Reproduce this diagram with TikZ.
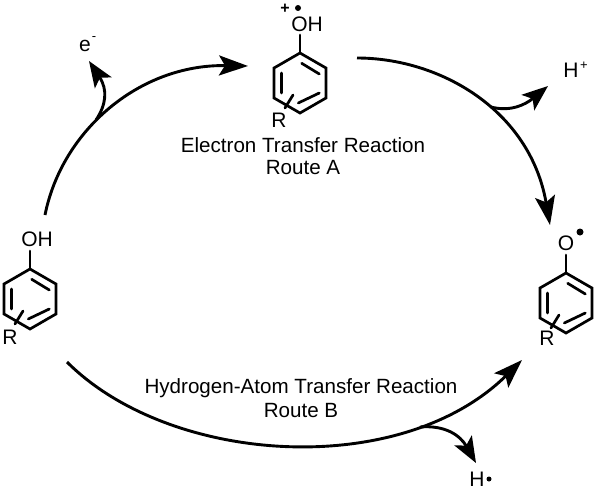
\documentclass[tikz,border=0pt]{standalone}
\usepackage{fontspec}
\setmainfont{Liberation Sans}
\usetikzlibrary{arrows.meta}
\tikzset{
  rbond/.style={black,line width=2.7pt,line cap=round,line join=miter},
  rarc/.style={black,line width=2.9pt,-{Stealth[length=29pt,width=20pt,inset=6pt]}},
  rbranch/.style={rarc,-{Stealth[length=26pt,width=20pt,inset=6pt]}},
  rlab/.style={font=\fontsize{21}{23}\selectfont,inner sep=0pt},
  rtxt/.style={font=\fontsize{20.6}{23}\selectfont,inner sep=0pt},
  rsup/.style={font=\fontsize{13}{14}\selectfont,inner sep=0pt},
  rdot/.style={circle,fill=black,inner sep=0pt,minimum size=6pt},
  pics/phenol/.style={code={
    \foreach \a/\n in {-90/a,-150/b,150/c,90/d,30/e,-30/f}
      {\coordinate (-\n) at (\a:30);}
    \draw[rbond] (-a)--(-b)--(-c)--(-d)--(-e)--(-f)--cycle;
    \draw[rbond] (-a)--++(0,-18);
    \draw[rbond] (1.7,-19.7)--(19.3,-9);
    \draw[rbond] (-18.3,-10)--(-18.3,10);
    \draw[rbond] (-1.7,20)--(19.3,10);
    \draw[rbond] (-7,12)--(-15,25);
  }},
}
\begin{document}
\begin{tikzpicture}[x=1pt,y=-1pt]
  \useasboundingbox (0,0) rectangle (597,490);
  % the three rings
  \pic (ringa) at (300,83) {phenol};
  \pic (ringb) at (30,299) {phenol};
  \pic (ringc) at (566,303) {phenol};
  \node[rlab] (oha) at (307,24) {OH};
  \node[rlab] (ra) at (279,120) {R};
  \node[rlab,font=\fontsize{16}{17}\bfseries] (plus) at (285,9) {+};
  \node[rdot] (rada) at (298,8) {};
  \node[rlab] (ohb) at (37,239) {OH};
  \node[rlab] (rb) at (10,337) {R};
  \node[rlab] (oc) at (566,243) {O};
  \node[rdot,minimum size=7pt] (radc) at (580,232) {};
  \node[rlab] (rc) at (547,338) {R};
  % leaving species
  \node[rlab] (em) at (85,46) {e};
  \node[rsup] (emc) at (94,39) {-};
  \node[rlab] (hp) at (571,70) {H};
  \node[rsup] (hpc) at (584,66) {+};
  \node[rlab] (hd) at (477,479) {H};
  \node[rdot,minimum size=5pt] (hddot) at (489,479) {};
  % route labels
  \node[rtxt] (eta) at (303,145) {Electron Transfer Reaction};
  \node[rtxt] (rta) at (303,168) {Route A};
  \node[rtxt] (hat) at (301,388) {Hydrogen-Atom Transfer Reaction};
  \node[rtxt] (rtb) at (301,411) {Route B};
  % arcs
  \coordinate (p1) at (45,215);
  \coordinate (p2) at (248,66);
  \coordinate (p3) at (357,58);
  \coordinate (p4) at (550,225);
  \coordinate (p5) at (67,362);
  \coordinate (p6) at (522,360);
  \draw[rarc] (p1) .. controls (62,130) and (140,64) .. (p2);
  \draw[rarc] (p3) .. controls (440,58) and (530,110) .. (p4);
  \draw[rarc] (p5) .. controls (170,465) and (400,480) .. (p6);
  % branches
  \coordinate (b1) at (96,120);
  \coordinate (b2) at (89,61);
  \coordinate (b3) at (491,107);
  \coordinate (b4) at (548,86);
  \coordinate (b5) at (420,427);
  \coordinate (b6) at (476,463);
  \draw[rbranch] (b1) .. controls (106,105) and (108,90) .. (b2);
  \draw[rbranch] (b3) .. controls (510,112) and (525,105) .. (b4);
  \draw[rbranch] (b5) .. controls (445,425) and (460,435) .. (b6);
\end{tikzpicture}
\end{document}
